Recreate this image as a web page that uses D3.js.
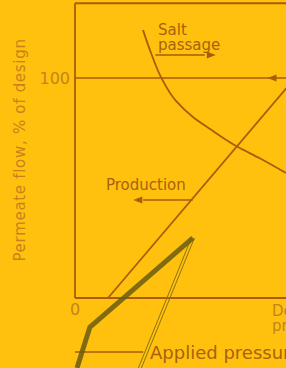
<!DOCTYPE html>
<html>
<head>
<meta charset="utf-8">
<script src="https://cdn.jsdelivr.net/npm/d3@7"></script>
<style>
  html, body { margin: 0; padding: 0; background: #ffc10e; }
  svg { display: block; }
  text { font-family: "DejaVu Sans", sans-serif; }
</style>
</head>
<body>
<div id="chart"></div>
<script>
// values (x: pressure, % of design; y: flow, % of design)
const yTicks = [100];
const productionX = [15, 100];
const productionY = [0, 100];
const saltX = [30.9, 34.7, 39.3, 46, 53.6, 61.4, 74.1, 84, 95.9];
const saltY = [121.8, 111, 100, 89.5, 82.3, 76.8, 68.6, 63.5, 56.8];
// pen strokes drawn over the scan
const markerX = [53.6, 6.8, 0.9];
const markerY = [27.3, -13.2, -31.8];
const pointerX = [53.6, 29.5];
const pointerY = [27.3, -31.8];
const appliedLeaderX = [0, 31];
const appliedLeaderY = [-24.5, -24.5];

const width = 286, height = 368;
const ink = "#a95d0b";
const textInk = "#a8620e";
const light = "#c4841a";

const x = d3.scaleLinear().domain([0, 100]).range([75, 295]);
const y = d3.scaleLinear().domain([0, 100]).range([298, 78]);
const yTop = 134;

const svg = d3.select("#chart").append("svg")
  .attr("width", width)
  .attr("height", height);

svg.append("rect").attr("width", width).attr("height", height).attr("fill", "#ffc10e");

const line = d3.line().x(d => x(d[0])).y(d => y(d[1]));
const zip = (a, b) => a.map((v, i) => [v, b[i]]);

// frame: left axis, top edge, bottom edge
svg.append("g")
  .attr("transform", `translate(${x(0)},0)`)
  .call(d3.axisLeft(y).tickValues(yTicks).tickSize(0).tickPadding(5))
  .call(g => g.select(".domain").remove())
  .call(g => g.selectAll("text")
    .attr("font-size", 16)
    .attr("fill", light)
    .attr("dy", "0.36em"));

svg.append("path")
  .attr("d", line([[0, 0], [0, yTop]]))
  .attr("stroke", ink).attr("stroke-width", 1.8).attr("fill", "none");
svg.append("path")
  .attr("d", line([[0, yTop], [100, yTop]]))
  .attr("stroke", ink).attr("stroke-width", 2).attr("fill", "none");
svg.append("path")
  .attr("d", line([[0, 0], [100, 0]]))
  .attr("stroke", ink).attr("stroke-width", 1.8).attr("fill", "none");

// 100 % line with arrow pointing left
svg.append("path")
  .attr("d", line([[0, 100], [100, 100]]))
  .attr("stroke", ink).attr("stroke-width", 1.6).attr("fill", "none");

function arrowHead(px, py, dir) {
  const l = 9, w = 3.5;
  svg.append("path")
    .attr("d", `M${px},${py}L${px - dir * l},${py - w}L${px - dir * l},${py + w}Z`)
    .attr("fill", ink);
}
arrowHead(x(87.5), y(100), -1);

// curves
svg.append("path")
  .attr("d", line(zip(productionX, productionY)))
  .attr("stroke", ink).attr("stroke-width", 1.8).attr("fill", "none");

svg.append("path")
  .attr("d", d3.line().x(d => x(d[0])).y(d => y(d[1])).curve(d3.curveMonotoneY)(zip(saltX, saltY)))
  .attr("stroke", ink).attr("stroke-width", 1.8).attr("fill", "none");

// labels
svg.append("text").attr("x", 158).attr("y", 35)
  .attr("font-size", 15).attr("fill", textInk).text("Salt");
svg.append("text").attr("x", 158).attr("y", 50)
  .attr("font-size", 15).attr("fill", textInk).text("passage");
svg.append("path")
  .attr("d", line([[36.5, 110.5], [59, 110.5]]))
  .attr("stroke", ink).attr("stroke-width", 1.5);
arrowHead(x(64), y(110.5), 1);

svg.append("text").attr("x", 106).attr("y", 190)
  .attr("font-size", 15).attr("fill", textInk).text("Production");
svg.append("path")
  .attr("d", line([[31, 44.5], [53.5, 44.5]]))
  .attr("stroke", ink).attr("stroke-width", 1.5);
arrowHead(x(26.5), y(44.5), -1);

svg.append("text").attr("x", x(0)).attr("y", 315)
  .attr("text-anchor", "middle").attr("font-size", 16).attr("fill", light).text("0");

svg.append("text").attr("x", 272).attr("y", 316)
  .attr("font-size", 15).attr("fill", light).text("Design");
svg.append("text").attr("x", 272).attr("y", 331)
  .attr("font-size", 15).attr("fill", light).text("pressure");

svg.append("text")
  .attr("transform", "translate(25,150) rotate(-90)")
  .attr("text-anchor", "middle")
  .attr("font-size", 15).attr("letter-spacing", 0.7)
  .attr("fill", light)
  .text("Permeate flow, % of design");

// Applied pressure leader and label
svg.append("path")
  .attr("d", line(zip(appliedLeaderX, appliedLeaderY)))
  .attr("stroke", ink).attr("stroke-width", 1.5);
svg.append("text").attr("x", 150).attr("y", 359)
  .attr("font-size", 18).attr("fill", textInk).text("Applied pressure");

// pen strokes
const pointer = zip(pointerX, pointerY);
[-1.5, 1.5].forEach(off => {
  svg.append("path")
    .attr("d", line(pointer))
    .attr("transform", `translate(${off},0)`)
    .attr("stroke", "#8a7212").attr("stroke-width", 1).attr("fill", "none");
});
svg.append("path")
  .attr("d", line(zip(markerX, markerY)))
  .attr("stroke", "#6b5c10").attr("stroke-opacity", 0.85)
  .attr("stroke-width", 5).attr("stroke-linejoin", "round").attr("fill", "none");
</script>
</body>
</html>
